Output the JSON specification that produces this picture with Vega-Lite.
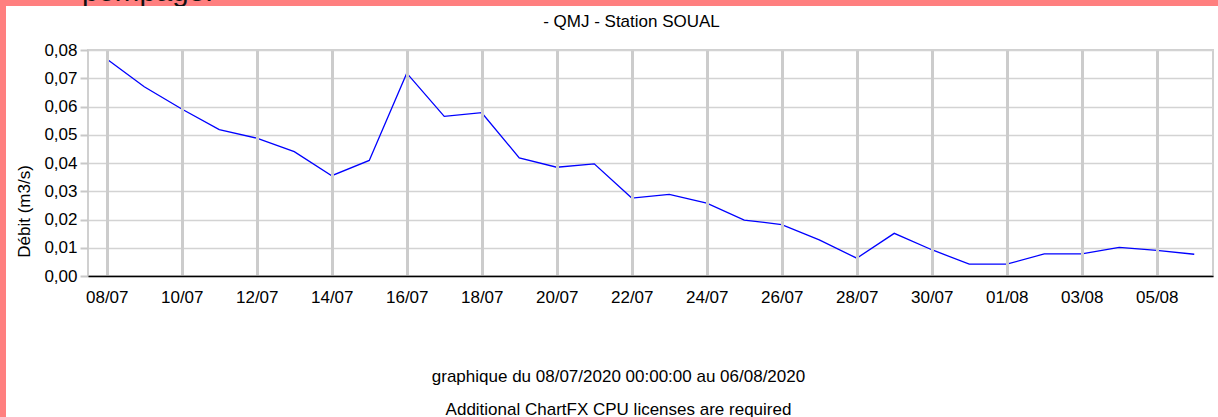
{
  "$schema": "https://vega.github.io/schema/vega-lite/v6.json",
  "background": "white",
  "padding": 0,
  "bounds": "flush",
  "spacing": 0,
  "config": {
    "font": "Liberation Sans",
    "view": {"stroke": null}
  },
  "vconcat": [
    {
      "width": 1218,
      "height": 6,
      "view": {"fill": "#ff7f7f", "stroke": null},
      "data": {"values": [{"note": "pompage."}]},
      "mark": {"type": "text", "clip": true, "align": "left", "baseline": "alphabetic", "dx": -527, "dy": -2.5, "fontSize": 29.5, "color": "#111111", "font": "Liberation Sans"},
      "encoding": {"text": {"field": "note"}}
    },
    {
      "width": 6,
      "height": 44,
      "view": {"fill": "#ff7f7f", "stroke": null},
      "data": {"values": []},
      "mark": "rect",
      "encoding": {}
    },
    {
      "spacing": 82,
      "bounds": "flush",
      "hconcat": [
        {
          "width": 6,
          "height": 367,
          "view": {"fill": "#ff7f7f", "stroke": null},
          "data": {"values": []},
          "mark": "rect",
          "encoding": {}
        },
        {
          "width": 1125,
          "height": 226,
          "view": {"stroke": "#d0d0d0", "strokeWidth": 2, "fill": "white"},
          "title": {"text": "- QMJ - Station SOUAL", "fontSize": 17, "fontWeight": "normal", "font": "Liberation Sans", "color": "black", "anchor": "middle", "frame": "group", "dx": -19, "baseline": "alphabetic", "offset": -3},
          "data": {"values": [
            {"date": "2020-07-08", "debit": 0.0768},
            {"date": "2020-07-09", "debit": 0.067},
            {"date": "2020-07-10", "debit": 0.0591},
            {"date": "2020-07-11", "debit": 0.0518},
            {"date": "2020-07-12", "debit": 0.0488},
            {"date": "2020-07-13", "debit": 0.044},
            {"date": "2020-07-14", "debit": 0.0355},
            {"date": "2020-07-15", "debit": 0.0409},
            {"date": "2020-07-16", "debit": 0.0718},
            {"date": "2020-07-17", "debit": 0.0565},
            {"date": "2020-07-18", "debit": 0.0578},
            {"date": "2020-07-19", "debit": 0.0418},
            {"date": "2020-07-20", "debit": 0.0385},
            {"date": "2020-07-21", "debit": 0.0397},
            {"date": "2020-07-22", "debit": 0.0276},
            {"date": "2020-07-23", "debit": 0.0289},
            {"date": "2020-07-24", "debit": 0.0258},
            {"date": "2020-07-25", "debit": 0.0198},
            {"date": "2020-07-26", "debit": 0.0182},
            {"date": "2020-07-27", "debit": 0.0128},
            {"date": "2020-07-28", "debit": 0.0063},
            {"date": "2020-07-29", "debit": 0.0151},
            {"date": "2020-07-30", "debit": 0.0093},
            {"date": "2020-07-31", "debit": 0.0042},
            {"date": "2020-08-01", "debit": 0.0042},
            {"date": "2020-08-02", "debit": 0.0078},
            {"date": "2020-08-03", "debit": 0.0078},
            {"date": "2020-08-04", "debit": 0.0101},
            {"date": "2020-08-05", "debit": 0.0091},
            {"date": "2020-08-06", "debit": 0.0077}
          ]},
          "mark": {"type": "line", "color": "#0000ff", "strokeWidth": 1.3},
          "encoding": {
            "x": {
              "field": "date",
              "type": "temporal",
              "scale": {
                "type": "utc",
                "domain": [
                  {"year": 2020, "month": 7, "date": 7, "hours": 12, "utc": true},
                  {"year": 2020, "month": 8, "date": 6, "hours": 12, "utc": true}
                ]
              },
              "axis": {
                "values": [
                  {"year": 2020, "month": 7, "date": 8, "utc": true},
                  {"year": 2020, "month": 7, "date": 10, "utc": true},
                  {"year": 2020, "month": 7, "date": 12, "utc": true},
                  {"year": 2020, "month": 7, "date": 14, "utc": true},
                  {"year": 2020, "month": 7, "date": 16, "utc": true},
                  {"year": 2020, "month": 7, "date": 18, "utc": true},
                  {"year": 2020, "month": 7, "date": 20, "utc": true},
                  {"year": 2020, "month": 7, "date": 22, "utc": true},
                  {"year": 2020, "month": 7, "date": 24, "utc": true},
                  {"year": 2020, "month": 7, "date": 26, "utc": true},
                  {"year": 2020, "month": 7, "date": 28, "utc": true},
                  {"year": 2020, "month": 7, "date": 30, "utc": true},
                  {"year": 2020, "month": 8, "date": 1, "utc": true},
                  {"year": 2020, "month": 8, "date": 3, "utc": true},
                  {"year": 2020, "month": 8, "date": 5, "utc": true}
                ],
                "format": "%d/%m",
                "labelFontSize": 17,
                "labelColor": "black",
                "labelPadding": 13,
                "labelFlush": false,
                "labelOverlap": false,
                "ticks": false,
                "domainColor": "black",
                "domainWidth": 1.5,
                "grid": true,
                "gridColor": "#cccccc",
                "gridWidth": 3,
                "zindex": 1,
                "title": ["graphique du 08/07/2020 00:00:00 au 06/08/2020", "Additional ChartFX CPU licenses are required"],
                "titleFontSize": 17,
                "titleFontWeight": "normal",
                "titleColor": "black",
                "titleX": 530,
                "titleY": 105.5,
                "titleAlign": "center",
                "titleBaseline": "alphabetic",
                "titleLineHeight": 32.5
              }
            },
            "y": {
              "field": "debit",
              "type": "quantitative",
              "scale": {"domain": [0, 0.08]},
              "axis": {
                "values": [0, 0.01, 0.02, 0.03, 0.04, 0.05, 0.06, 0.07, 0.08],
                "labelExpr": "replace(format(datum.value, '.2f'), '.', ',')",
                "labelFontSize": 17,
                "labelColor": "black",
                "labelPadding": 3,
                "tickSize": 8,
                "tickColor": "#c8c8c8",
                "tickWidth": 2,
                "domain": false,
                "grid": true,
                "gridColor": "#d3d3d3",
                "gridWidth": 1.5,
                "title": "Débit (m3/s)",
                "titleFontSize": 17,
                "titleFontWeight": "normal",
                "titleColor": "black",
                "titleAngle": -90,
                "titleX": -64,
                "titleY": 161,
                "titleAlign": "center",
                "titleBaseline": "middle"
              }
            }
          }
        }
      ]
    }
  ]
}
